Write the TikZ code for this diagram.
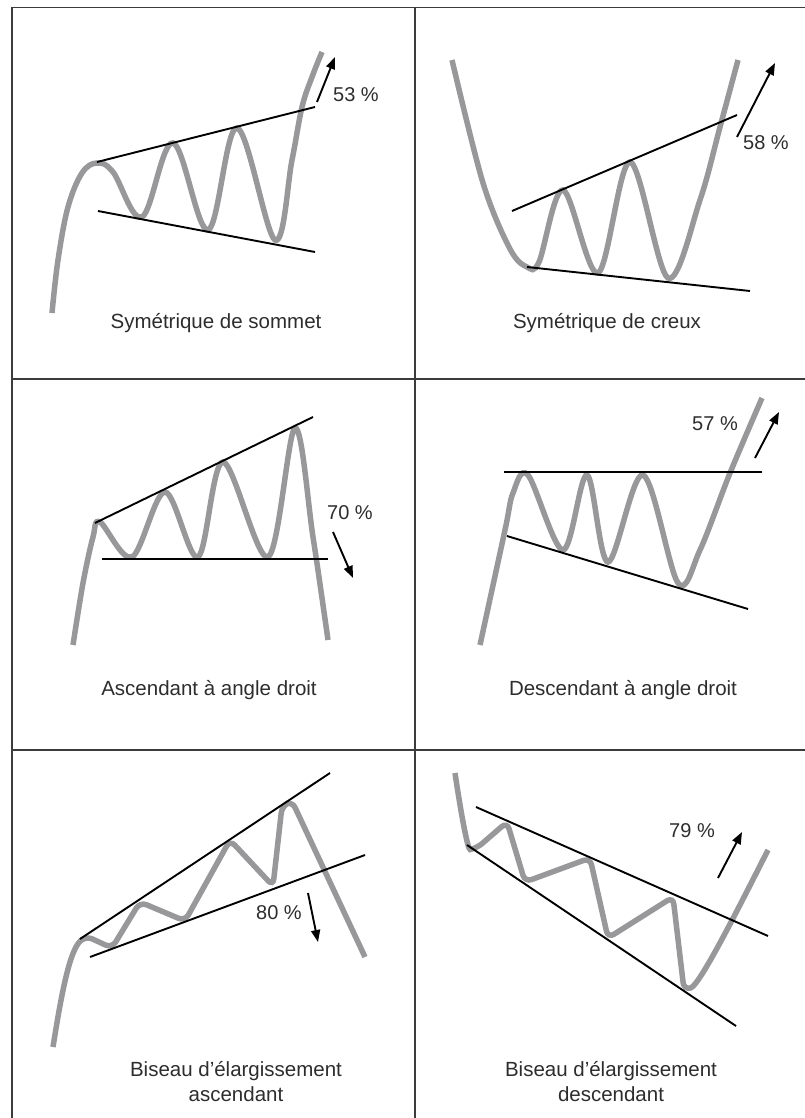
\documentclass[tikz,border=0pt]{standalone}
\usepackage{fontspec}
\setmainfont{Liberation Sans}
\usetikzlibrary{arrows.meta}
\definecolor{pricegray}{RGB}{152,152,154}
\definecolor{framegray}{RGB}{60,60,60}
\definecolor{textgray}{RGB}{45,45,45}

\begin{document}
\begin{tikzpicture}[x=1pt,y=-1pt,
    price/.style={pricegray, line width=5.5pt},
    trend/.style={black, line width=1.9pt},
    frame/.style={framegray, line width=1.3pt},
    move/.style={black, line width=1.9pt, -{Triangle[length=12pt,width=9pt]}},
    pct/.style={textgray, inner sep=0pt, font=\fontsize{20}{24}\selectfont},
    caption/.style={textgray, inner sep=0pt, align=center, font=\fontsize{20.5}{25}\selectfont}]
    \useasboundingbox (0,0) rectangle (805,1118);
    % Grid
    \draw[frame] (805,7.5) -- (12,7.5) -- (12,1118);
    \draw[frame] (415,7.5) -- (415,1118);
    \draw[frame] (12,379) -- (805,379);
    \draw[frame] (12,750) -- (805,750);

    % Symetrique de sommet
    \draw[price] plot[smooth, tension=0.6] coordinates {(52,313) (58,260) (68,207) (82,173) (97,163)
        (113,172) (142,217) (173,143) (208,230) (237,128) (275,240) (292,160) (302,107) (312,77) (322,52)};
    \draw[trend] (97,162) -- (315,107);
    \draw[trend] (98,211) -- (315,252);
    \draw[move] (317,102) -- (335,57);
    \node[pct, anchor=west] (pctA) at (333,95) {53 \%};
    \node[caption] (capA) at (216,323) {Symétrique de sommet};

    % Symetrique de creux
    \draw[price] plot[smooth, tension=0.55] coordinates {(452,60) (483,183) (510,249) (527,267) (539,262)
        (563,190) (598,273) (630,162) (668,278) (700,200) (720,127) (738,60)};
    \draw[trend] (512,211) -- (737,115);
    \draw[trend] (527,267) -- (750,291);
    \draw[move] (737,137) -- (775,63);
    \node[pct, anchor=west] (pctB) at (743,143) {58 \%};
    \node[caption] (capB) at (607,323) {Symétrique de creux};

    % Ascendant a angle droit
    \draw[price] plot[smooth, tension=0.55] coordinates {(73,645) (83,583) (93,537) (100,522)
        (132,557) (165,492) (198,557) (223,462) (268,557) (295,428) (313,537) (328,640)};
    \draw[trend] (95,523) -- (313,417);
    \draw[trend] (102,559) -- (328,559);
    \draw[move] (333,532) -- (353,578);
    \node[pct, anchor=west] (pctC) at (327,513) {70 \%};
    \node[caption] (capC) at (209,690) {Ascendant à angle droit};

    % Descendant a angle droit
    \draw[price] plot[smooth, tension=0.55] coordinates {(480,645) (505,530) (513,493) (528,475)
        (563,550) (587,475) (608,562) (643,475) (678,583) (700,550) (730,473) (762,398)};
    \draw[trend] (504,472) -- (762,472);
    \draw[trend] (507,536) -- (748,609);
    \draw[move] (755,458) -- (779,412);
    \node[pct, anchor=east] (pctD) at (738,424) {57 \%};
    \node[caption] (capD) at (623,690) {Descendant à angle droit};

    % Biseau d'elargissement ascendant
    \draw[price, rounded corners=7pt] (53,1047) .. controls (62,990) and (70,950) .. (86,936)
        -- (112,948) -- (140,902) -- (185,921) -- (230,840) -- (273,886) -- (282,806)
        -- (292,801) -- (365,957);
    \draw[trend] (80,939) -- (330,773);
    \draw[trend] (90,957) -- (365,855);
    \draw[move] (308,893) -- (318,942);
    \node[pct, anchor=east] (pctE) at (302,913) {80 \%};
    \node[caption] (capE) at (236,1082) {Biseau d’élargissement\\ascendant};

    % Biseau d'elargissement descendant
    \draw[price, rounded corners=7pt] (455,773) .. controls (462,820) and (468,850) .. (477,848)
        -- (507,822) -- (525,882) -- (590,858) -- (608,938) -- (673,897) -- (684,990)
        .. controls (700,985) and (740,905) .. (768,850);
    \draw[trend] (476,807) -- (768,936);
    \draw[trend] (467,845) -- (736,1026);
    \draw[move] (718,878) -- (742,832);
    \node[pct, anchor=east] (pctF) at (715,831) {79 \%};
    \node[caption] (capF) at (611,1082) {Biseau d’élargissement\\descendant};
\end{tikzpicture}
\end{document}
